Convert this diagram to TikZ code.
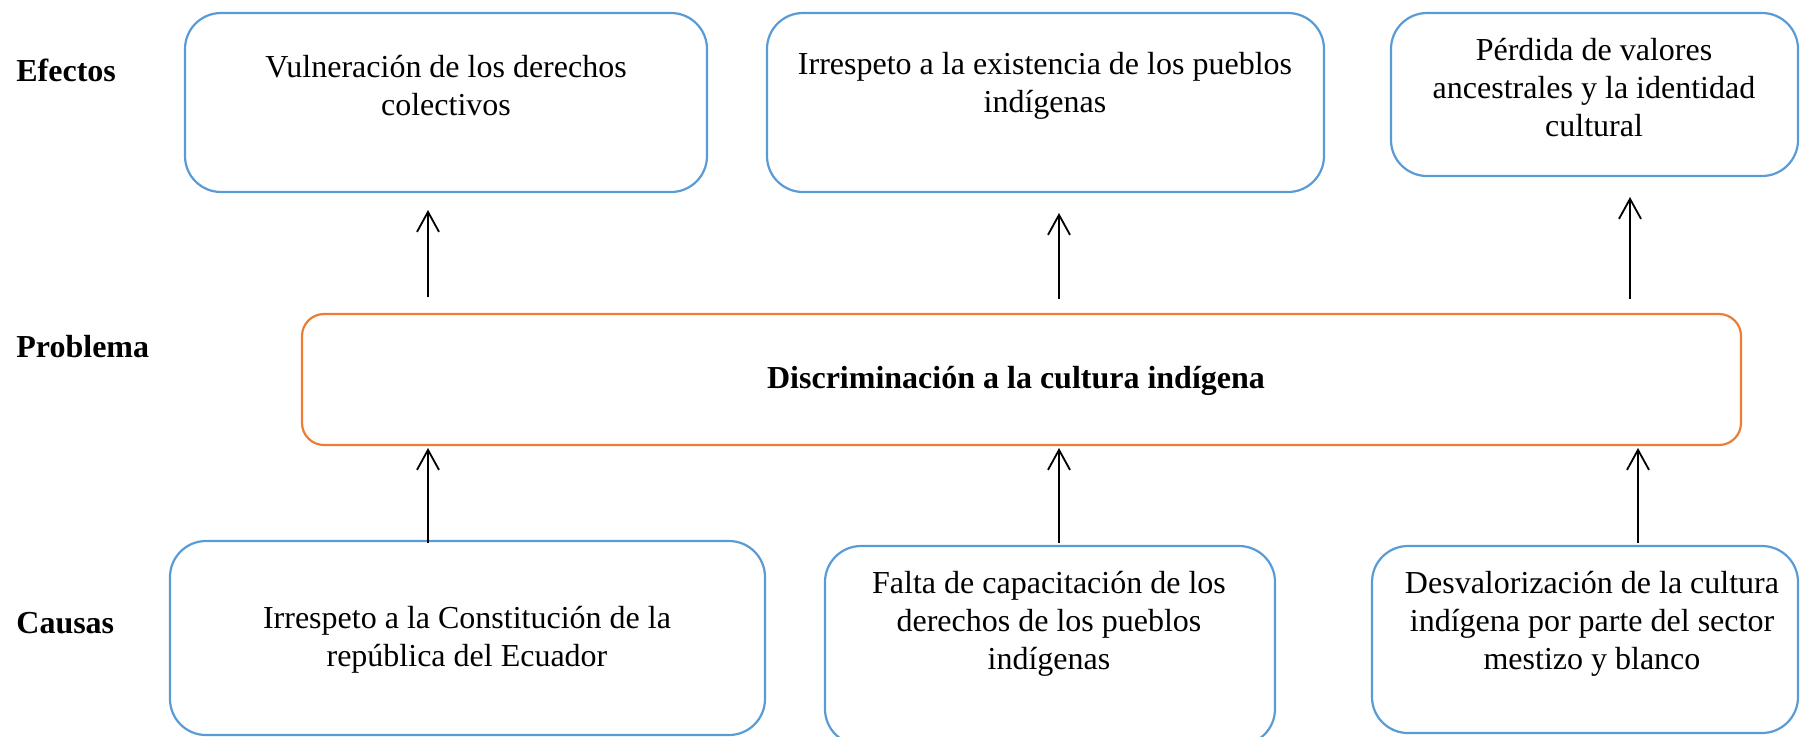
\documentclass[tikz,border=0pt]{standalone}
\usepackage{fontspec}
\setmainfont{Liberation Serif}
\usetikzlibrary{arrows.meta}
\definecolor{bblue}{RGB}{91,155,213}
\definecolor{borange}{RGB}{237,125,49}
\begin{document}
\begin{tikzpicture}[x=0.5pt,y=-0.5pt,
  box/.style={draw=bblue, line width=1.1pt, rounded corners=18pt, inner sep=0pt, outer sep=0pt},
  pbox/.style={draw=borange, line width=1.1pt, rounded corners=11pt, inner sep=0pt, outer sep=0pt},
  txt/.style={align=center, inner sep=0pt, font=\fontsize{16}{19}\selectfont},
  lbl/.style={anchor=west, inner sep=0pt, font=\fontsize{16}{19}\selectfont\bfseries},
  arr/.style={-{Straight Barb[length=10pt,width=11pt]}, line width=0.9pt, black}]
\useasboundingbox (0,0) rectangle (1800,736);
\clip (0,0) rectangle (1800,736);
% labels
\node[lbl] (lef) at (16,70) {Efectos};
\node[lbl] (lpr) at (16,347) {Problema};
\node[lbl] (lca) at (16,623) {Causas};
% effect boxes
\node[box, minimum width=261pt, minimum height=89.5pt] (e1) at (446,102.5) {};
\node[box, minimum width=278.5pt, minimum height=89.5pt] (e2) at (1045.5,102.5) {};
\node[box, minimum width=203.5pt, minimum height=81.5pt] (e3) at (1594.5,94.5) {};
\node[txt] (e1t) at (446,86) {Vulneración de los derechos\\colectivos};
\node[txt] (e2t) at (1045,86) {Irrespeto a la existencia de los pueblos\\indígenas};
\node[txt] (e3t) at (1594,88) {Pérdida de valores\\ancestrales y la identidad\\cultural};
% problem
\node[pbox, minimum width=719.5pt, minimum height=65.5pt] (p) at (1021.5,379.5) {};
\node[txt, font=\fontsize{16}{19}\selectfont\bfseries] (pt) at (1016,381) {Discriminación a la cultura indígena};
% causes
\node[box, minimum width=297.5pt, minimum height=97pt] (c1) at (467.5,638) {};
\node[box, minimum width=225pt, minimum height=99.5pt] (c2) at (1050,645.5) {};
\node[box, minimum width=213pt, minimum height=93.5pt] (c3) at (1585,639.5) {};
\node[txt] (c1t) at (467,640) {Irrespeto a la Constitución de la\\república del Ecuador};
\node[txt] (c2t) at (1049,624) {Falta de capacitación de los\\derechos de los pueblos\\indígenas};
\node[txt] (c3t) at (1592,624) {Desvalorización de la cultura\\indígena por parte del sector\\mestizo y blanco};
% arrow columns
\coordinate (x1) at (428,0);
\coordinate (x2) at (1059,0);
\coordinate (x3) at (1630,0);
\coordinate (x4) at (1638,0);
% upper arrows
\draw[arr, shorten <=8.5pt, shorten >=9pt] (p.north -| x1) -- (e1.south -| x1);
\draw[arr, shorten <=7.5pt, shorten >=10.5pt] (p.north -| x2) -- (e2.south -| x2);
\draw[arr, shorten <=7.5pt, shorten >=10.5pt] (p.north -| x3) -- (e3.south -| x3);
% lower arrows
\draw[arr, shorten <=-1pt, shorten >=1.5pt] (c1.north -| x1) -- (p.south -| x1);
\draw[arr, shorten <=1.5pt, shorten >=1.5pt] (c2.north -| x2) -- (p.south -| x2);
\draw[arr, shorten <=1.5pt, shorten >=1.5pt] (c3.north -| x4) -- (p.south -| x4);
\end{tikzpicture}
\end{document}
